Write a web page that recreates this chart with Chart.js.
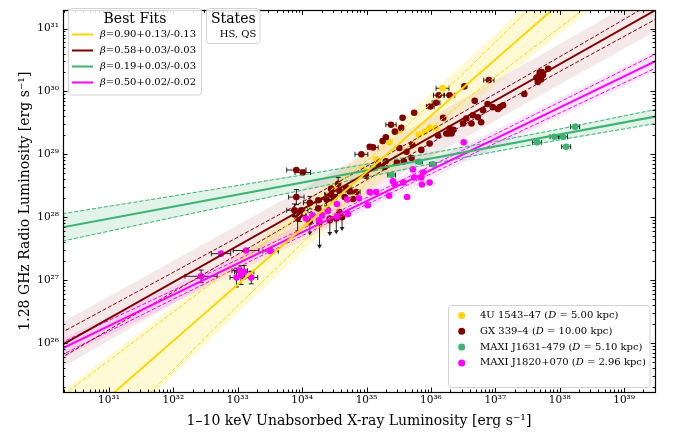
<!DOCTYPE html>
<html>
<head>
<meta charset="utf-8">
<script src="https://cdn.jsdelivr.net/npm/chart.js@4.4.1/dist/chart.umd.min.js"></script>
<style>
html,body{margin:0;padding:0;background:#fff;}
#wrap{width:676px;height:437px;}
</style>
</head>
<body>
<div id="wrap"><canvas id="c" width="676" height="437"></canvas></div>
<script>
// ---------------- data (log10 values) ----------------
const sourceNames = ['4U 1543\u201347', 'GX 339\u20134', 'MAXI J1631\u2013479', 'MAXI J1820+070'];
const sourceDistances = ['5.00', '10.00', '5.10', '2.96'];
const sourceColors = ['#FFD700', '#800000', '#3CB371', '#FF00FF'];
const shadeColors = ['rgba(255,215,0,0.16)', 'rgba(128,0,0,0.09)', 'rgba(60,179,113,0.15)', 'rgba(255,0,255,0.10)'];
const fitLabels = ['0.90+0.13/-0.13', '0.58+0.03/-0.03', '0.19+0.03/-0.03', '0.50+0.02/-0.02'];
const stateLabels = ['HS, QS'];
const xMajorExps = [31, 32, 33, 34, 35, 36, 37, 38, 39];
const yMajorExps = [26, 27, 28, 29, 30, 31];
const xRangeExp = [30.286, 39.48];
const yRangeExp = [25.22, 31.29];

// points: [log Lx, log Lr, x error (dex), y error (dex)]
const u1543Points = [
  [36.18,30.05,0.1,0],[35.36,29.19,0,0],[35.51,29.38,0,0],[35.81,29.31,0,0],[35.91,29.36,0,0],
  [35.98,29.42,0,0],[36.07,29.42,0,0],[35.15,28.92,0,0],[34.96,28.75,0,0],[34.10,27.91,0,0],
  [34.53,28.45,0,0],[34.27,27.88,0,0]
];
const gx339Points = [
  [37.69,30.30,0,0],[37.64,30.22,0,0],[37.71,30.19,0,0],[37.66,30.15,0,0],[37.82,30.36,0,0],
  [37.74,30.26,0,0],[37.68,30.24,0,0],[37.72,30.31,0,0],
  [36.90,30.18,0.08,0],[36.52,30.08,0,0],[37.45,29.96,0,0],[36.68,29.85,0,0],
  [36.88,29.80,0,0],[37.07,29.75,0,0],[36.96,29.75,0,0],[37.12,29.78,0,0],[37.04,29.72,0,0],
  [36.81,29.70,0,0],[36.65,29.62,0,0],[36.73,29.59,0,0],[36.55,29.57,0,0],[36.50,29.49,0,0],
  [36.63,29.49,0,0],[36.78,29.51,0,0],
  [36.19,29.58,0,0],[36.29,29.41,0,0],[36.27,29.33,0,0],[36.32,29.33,0,0],[36.29,29.94,0.08,0],
  [36.12,29.94,0.08,0],[36.08,29.82,0.06,0],[35.99,29.76,0.06,0],
  [35.74,29.66,0,0],[35.56,29.58,0,0],
  [35.38,29.47,0.08,0],[35.54,29.42,0,0],[35.44,29.36,0,0],[35.30,29.27,0,0],[35.25,29.21,0,0],
  [35.10,29.11,0.08,0],[34.92,29.00,0.1,0],[35.05,29.12,0,0],
  [35.51,29.10,0,0],[35.62,29.04,0,0],[35.71,29.15,0,0],[35.85,29.07,0,0],[35.98,29.17,0,0],
  [36.11,29.30,0,0],[36.24,29.33,0,0],[36.35,29.39,0,0],
  [35.47,28.87,0,0],[35.58,28.89,0,0],[35.70,28.94,0,0],[35.28,28.80,0,0],[35.30,28.89,0,0],
  [35.18,28.84,0,0],[34.99,28.66,0,0],
  [33.91,28.75,0.15,0],[34.01,28.71,0.12,0],
  [34.56,28.53,0,0.1],[34.58,28.42,0,0],[34.45,28.45,0,0],[34.70,28.46,0.06,0],[34.74,28.41,0,0],
  [34.84,28.40,0.06,0],
  [34.45,28.36,0.1,0.1],[33.91,28.32,0.12,0.12],[34.12,28.23,0.1,0.1],[34.25,28.27,0,0],
  [34.38,28.28,0.08,0.1],[34.50,28.32,0,0],[34.66,28.32,0,0],[34.79,28.29,0,0],
  [33.88,28.11,0.12,0.1],[33.99,28.11,0.1,0],[34.25,28.14,0,0],[34.40,28.11,0,0],[34.58,28.08,0,0],
  [33.96,28.03,0.1,0.1],[34.43,27.98,0,0]
];
// upper limits: [log Lx, log Lr, arrow length (dex)]
const gx339UpperLimits = [
  [33.93,27.98,0.25],[34.12,27.93,0.22],[34.27,27.92,0.42],[34.43,27.95,0.25],[34.53,27.98,0.25],[34.62,28.00,0.22]
];
const j1631Points = [
  [38.24,29.44,0.07,0],[37.92,29.28,0.07,0],[38.05,29.28,0.07,0],[37.65,29.19,0.07,0],[38.10,29.12,0.07,0],
  [35.82,28.88,0.05,0],[36.03,28.84,0.05,0],[35.39,28.67,0.06,0],[35.11,28.78,0.05,0]
];
const j1820Points = [
  [36.51,29.19,0,0],[35.72,28.76,0,0],[35.88,28.71,0,0],[35.74,28.63,0,0],[35.85,28.63,0,0],
  [35.98,28.55,0,0],[35.86,28.52,0,0],[35.57,28.55,0,0],[35.44,28.52,0,0],[35.41,28.57,0,0],
  [35.15,28.40,0,0],[35.05,28.40,0,0],[35.35,28.34,0,0],[35.63,28.32,0,0],[34.88,28.30,0,0],
  [34.70,28.28,0,0],[35.02,28.19,0,0],[34.71,28.05,0,0],[34.54,28.21,0,0],[34.54,28.01,0,0],
  [34.31,28.03,0,0],[34.16,28.03,0,0],[34.06,27.98,0,0],[34.26,27.95,0,0],[34.40,28.10,0,0],
  [32.74,27.42,0.15,0],[33.13,27.47,0.2,0],[33.51,27.46,0.12,0],[32.43,27.06,0.25,0.1],
  [32.98,27.04,0.1,0.15],[33.10,27.13,0.15,0.1],[33.03,27.15,0.12,0],[33.21,27.04,0.1,0.1],
  [33.05,27.08,0,0.15]
];

// best-fit lines and bands: [log Lx, log Lr]
const u1543Fit   = [[30,24.245],[40,33.19]];
const u1543FitHi = [[30,24.952],[31,25.721],[32,26.492],[33,27.268],[34,28.056],[35.3,29.146],[36.5,30.282],[37.5,31.282],[38.5,32.294],[39.5,33.312]];
const u1543FitLo = [[30,23.538],[31,24.559],[32,25.576],[33,26.590],[34,27.590],[35.3,28.826],[36.5,29.836],[37.5,30.626],[38.5,31.402],[39.5,32.174]];
const u1543BandHi = [[30,25.013],[31,25.794],[32,26.581],[33,27.382],[34,28.203],[35.3,29.326],[36.5,30.433],[37.5,31.398],[38.5,32.385],[39.5,33.386]];
const u1543BandLo = [[30,23.477],[31,24.486],[32,25.487],[33,26.476],[34,27.443],[35.3,28.646],[36.5,29.685],[37.5,30.510],[38.5,31.311],[39.5,32.100]];

const gx339Fit   = [[30,25.813],[40,31.588]];
const gx339FitHi = [[30,26.019],[32,27.124],[34,28.240],[36,29.378],[38,30.550],[40,31.744]];
const gx339FitLo = [[30,25.607],[32,26.812],[34,28.006],[36,29.178],[38,30.316],[40,31.432]];
const gx339BandHi = [[30,26.177],[32,27.307],[34,28.445],[36,29.594],[38,30.755],[40,31.927]];
const gx339BandLo = [[30,25.449],[32,26.629],[34,27.801],[36,28.962],[38,30.111],[40,31.249]];

const j1631Fit   = [[30,27.784],[40,29.699]];
const j1631FitHi = [[30,28.009],[32,28.337],[34,28.670],[36,29.018],[37,29.205],[38,29.401],[40,29.819]];
const j1631FitLo = [[30,27.559],[32,27.997],[34,28.430],[36,28.848],[37,29.045],[38,29.231],[40,29.579]];
const j1631BandHi = [[30,28.017],[32,28.347],[34,28.684],[36,29.037],[37,29.225],[38,29.420],[40,29.833]];
const j1631BandLo = [[30,27.551],[32,27.987],[34,28.416],[36,28.829],[37,29.025],[38,29.212],[40,29.565]];

const j1820Fit   = [[30,25.776],[40,30.736]];
const j1820FitHi = [[30,25.879],[32,26.839],[34.5,28.058],[37,29.319],[40,30.857]];
const j1820FitLo = [[30,25.673],[32,26.697],[34.5,27.958],[37,29.177],[40,30.615]];
const j1820BandHi = [[30,25.932],[32,26.907],[34.5,28.138],[37,29.387],[40,30.906]];
const j1820BandLo = [[30,25.620],[32,26.629],[34.5,27.878],[37,29.109],[40,30.566]];

// ---------------- chart construction ----------------
const FONT = '"DejaVu Serif", "Liberation Serif", serif';
Chart.defaults.font.family = FONT;
Chart.defaults.color = '#000';

const toXY = arr => arr.map(p => ({x: Math.pow(10, p[0]), y: Math.pow(10, p[1])}));

const fits = [
  {line: u1543Fit, hi: u1543FitHi, lo: u1543FitLo, bHi: u1543BandHi, bLo: u1543BandLo},
  {line: gx339Fit, hi: gx339FitHi, lo: gx339FitLo, bHi: gx339BandHi, bLo: gx339BandLo},
  {line: j1631Fit, hi: j1631FitHi, lo: j1631FitLo, bHi: j1631BandHi, bLo: j1631BandLo},
  {line: j1820Fit, hi: j1820FitHi, lo: j1820FitLo, bHi: j1820BandHi, bLo: j1820BandLo}
];

const datasets = [];
const lineBase = {type: 'line', showLine: true, pointRadius: 0, pointHoverRadius: 0, tension: 0, fill: false};
fits.forEach((f, i) => {
  datasets.push(Object.assign({}, lineBase, {label: 'fit', data: toXY(f.line), borderColor: sourceColors[i], borderWidth: 2, order: 0}));
  datasets.push(Object.assign({}, lineBase, {label: 'fit+', data: toXY(f.hi), borderColor: sourceColors[i], borderWidth: 1, borderDash: [4, 2], order: 1}));
  datasets.push(Object.assign({}, lineBase, {label: 'fit-', data: toXY(f.lo), borderColor: sourceColors[i], borderWidth: 1, borderDash: [4, 2], order: 1}));
});
const pointSets = [
  {pts: u1543Points, extra: [], ul: null, order: 5},
  {pts: gx339Points, extra: gx339UpperLimits, ul: gx339UpperLimits, order: 4},
  {pts: j1631Points, extra: [], ul: null, order: 3},
  {pts: j1820Points, extra: [], ul: null, order: 2}
];
pointSets.forEach((s, i) => {
  datasets.push({
    label: sourceNames[i], data: toXY(s.pts.concat(s.extra)), showLine: false,
    backgroundColor: sourceColors[i], borderColor: sourceColors[i], borderWidth: 0,
    pointRadius: 3.3, pointHoverRadius: 3.3, order: s.order,
    errorPoints: s.pts, upperLimits: s.ul
  });
});
fits.forEach((f, i) => {
  datasets.push(Object.assign({}, lineBase, {label: 'band', data: toXY(f.bHi), borderWidth: 0, borderColor: 'rgba(0,0,0,0)', backgroundColor: shadeColors[i], fill: '+1', order: 20}));
  datasets.push(Object.assign({}, lineBase, {label: 'band', data: toXY(f.bLo), borderWidth: 0, borderColor: 'rgba(0,0,0,0)', order: 20}));
});

const SUP = {'0':'\u2070','1':'\u00b9','2':'\u00b2','3':'\u00b3','4':'\u2074','5':'\u2075','6':'\u2076','7':'\u2077','8':'\u2078','9':'\u2079','-':'\u207b'};
function powLabel(v, exps) {
  const l = Math.log10(v), e = Math.round(l);
  if (Math.abs(l - e) > 1e-6 || exps.indexOf(e) < 0) return '';
  return '10' + String(e).split('').map(c => SUP[c]).join('');
}

// error bars and upper limits, drawn just below each source's markers
const errorBars = {
  id: 'errorBars',
  beforeDatasetDraw(chart, args) {
    const ds = chart.data.datasets[args.index];
    if (!ds.errorPoints) return;
    const {ctx, chartArea: a} = chart;
    const xs = chart.scales.x, ys = chart.scales.y;
    ctx.save();
    ctx.beginPath(); ctx.rect(a.left, a.top, a.right - a.left, a.bottom - a.top); ctx.clip();
    ctx.strokeStyle = 'rgba(0,0,0,0.85)'; ctx.fillStyle = 'rgba(0,0,0,0.85)'; ctx.lineWidth = 1;
    ctx.beginPath();
    ds.errorPoints.forEach(p => {
      const px = xs.getPixelForValue(Math.pow(10, p[0])), py = ys.getPixelForValue(Math.pow(10, p[1]));
      if (p[2] > 0) {
        const x1 = xs.getPixelForValue(Math.pow(10, p[0] - p[2])), x2 = xs.getPixelForValue(Math.pow(10, p[0] + p[2]));
        ctx.moveTo(x1, py); ctx.lineTo(x2, py);
        ctx.moveTo(x1, py - 2.5); ctx.lineTo(x1, py + 2.5);
        ctx.moveTo(x2, py - 2.5); ctx.lineTo(x2, py + 2.5);
      }
      if (p[3] > 0) {
        const y1 = ys.getPixelForValue(Math.pow(10, p[1] - p[3])), y2 = ys.getPixelForValue(Math.pow(10, p[1] + p[3]));
        ctx.moveTo(px, y1); ctx.lineTo(px, y2);
        ctx.moveTo(px - 2.5, y1); ctx.lineTo(px + 2.5, y1);
        ctx.moveTo(px - 2.5, y2); ctx.lineTo(px + 2.5, y2);
      }
    });
    ctx.stroke();
    (ds.upperLimits || []).forEach(p => {
      const px = xs.getPixelForValue(Math.pow(10, p[0])), py = ys.getPixelForValue(Math.pow(10, p[1]));
      const py2 = ys.getPixelForValue(Math.pow(10, p[1] - p[2]));
      ctx.beginPath(); ctx.moveTo(px, py); ctx.lineTo(px, py2 - 3); ctx.stroke();
      ctx.beginPath(); ctx.moveTo(px - 2.5, py2 - 4); ctx.lineTo(px + 2.5, py2 - 4); ctx.lineTo(px, py2); ctx.closePath(); ctx.fill();
    });
    ctx.restore();
  }
};

function logTicks(ctx, scale, horiz, a) {
  const lo = Math.floor(Math.log10(scale.min)), hi = Math.ceil(Math.log10(scale.max));
  ctx.beginPath();
  for (let e = lo; e <= hi; e++) {
    for (let k = 1; k <= 9; k++) {
      const v = k * Math.pow(10, e);
      if (v < scale.min || v > scale.max) continue;
      const p = Math.round(scale.getPixelForValue(v)) + 0.5;
      const len = k === 1 ? 4.5 : 2.5;
      if (horiz) {
        ctx.moveTo(p, a.bottom); ctx.lineTo(p, a.bottom - len);
        ctx.moveTo(p, a.top); ctx.lineTo(p, a.top + len);
      } else {
        ctx.moveTo(a.left, p); ctx.lineTo(a.left + len, p);
        ctx.moveTo(a.right, p); ctx.lineTo(a.right - len, p);
      }
    }
  }
  ctx.stroke();
}

function legendBox(ctx, x, y, w, h) {
  const r = 3;
  ctx.beginPath();
  ctx.moveTo(x + r, y);
  ctx.arcTo(x + w, y, x + w, y + h, r);
  ctx.arcTo(x + w, y + h, x, y + h, r);
  ctx.arcTo(x, y + h, x, y, r);
  ctx.arcTo(x, y, x + w, y, r);
  ctx.closePath();
  ctx.fillStyle = 'rgba(255,255,255,0.85)'; ctx.fill();
  ctx.strokeStyle = '#d2d2d2'; ctx.lineWidth = 1; ctx.stroke();
}

function drawSegments(ctx, segs, x, y) {
  segs.forEach(s => {
    ctx.font = s[1];
    ctx.fillText(s[0], x, y);
    x += ctx.measureText(s[0]).width;
  });
}

const frameAndLegends = {
  id: 'frameAndLegends',
  afterDatasetsDraw(chart) {
    const {ctx, chartArea: a} = chart;
    ctx.save();
    ctx.strokeStyle = '#000'; ctx.lineWidth = 1;
    logTicks(ctx, chart.scales.x, true, a);
    logTicks(ctx, chart.scales.y, false, a);
    ctx.lineWidth = 1.2;
    ctx.strokeRect(Math.round(a.left) + 0.5, Math.round(a.top) + 0.5, Math.round(a.right - a.left), Math.round(a.bottom - a.top));
    ctx.restore();
  },
  afterDraw(chart) {
    const ctx = chart.ctx;
    ctx.save();
    // Best Fits legend
    legendBox(ctx, 68.5, 8.5, 133, 86.5);
    ctx.fillStyle = '#000'; ctx.textAlign = 'center'; ctx.textBaseline = 'middle';
    ctx.font = '14px ' + FONT;
    ctx.fillText('Best Fits', 135, 19);
    fitLabels.forEach((lab, i) => {
      const y = 34.5 + 16 * i;
      ctx.strokeStyle = sourceColors[i]; ctx.lineWidth = 2;
      ctx.beginPath(); ctx.moveTo(72, y); ctx.lineTo(93, y); ctx.stroke();
      ctx.fillStyle = '#000'; ctx.textAlign = 'left';
      drawSegments(ctx, [['\u03b2', 'italic 10px ' + FONT], ['=' + lab, '10px ' + FONT]], 100, y);
    });
    // States legend
    legendBox(ctx, 206.5, 8.5, 53.5, 35);
    ctx.fillStyle = '#000'; ctx.textAlign = 'center';
    ctx.font = '14px ' + FONT;
    ctx.fillText('States', 233.3, 19);
    ctx.font = '10px ' + FONT;
    ctx.fillText(stateLabels[0], 238, 34.5);
    // sources legend
    legendBox(ctx, 448.5, 305.5, 201.5, 82);
    sourceNames.forEach((name, i) => {
      const y = 315.5 + 15.8 * i;
      ctx.fillStyle = sourceColors[i];
      ctx.beginPath(); ctx.arc(461.7, y, 3.5, 0, Math.PI * 2); ctx.fill();
      ctx.fillStyle = '#000'; ctx.textAlign = 'left';
      drawSegments(ctx, [[name + ' (', '10px ' + FONT], ['D', 'italic 10px ' + FONT], [' = ' + sourceDistances[i] + ' kpc)', '10px ' + FONT]], 480, y);
    });
    ctx.restore();
  }
};

new Chart(document.getElementById('c'), {
  type: 'scatter',
  data: {datasets},
  options: {
    responsive: false,
    devicePixelRatio: 1,
    animation: false,
    events: [],
    layout: {padding: {left: 0, right: 21, top: 3, bottom: 0}},
    plugins: {legend: {display: false}, tooltip: {enabled: false}},
    scales: {
      x: {
        type: 'logarithmic',
        min: Math.pow(10, xRangeExp[0]), max: Math.pow(10, xRangeExp[1]),
        grid: {display: false, drawTicks: false},
        border: {display: false},
        ticks: {autoSkip: false, maxRotation: 0, minRotation: 0, padding: 2, font: {size: 10.5}, color: '#000',
                callback: v => powLabel(v, xMajorExps)},
        title: {display: true, text: '1\u201310 keV Unabsorbed X-ray Luminosity [erg s\u207b\u00b9]', font: {size: 14}, color: '#000', padding: {top: 0, bottom: 7.5}},
        afterFit: s => { s.height = 45; }
      },
      y: {
        type: 'logarithmic',
        min: Math.pow(10, yRangeExp[0]), max: Math.pow(10, yRangeExp[1]),
        grid: {display: false, drawTicks: false},
        border: {display: false},
        ticks: {autoSkip: false, padding: 4, font: {size: 10.5}, color: '#000',
                callback: v => powLabel(v, yMajorExps)},
        title: {display: true, text: '1.28 GHz Radio Luminosity [erg s\u207b\u00b9]', font: {size: 14}, color: '#000', padding: {top: 17, bottom: 0}},
        afterFit: s => { s.width = 63; }
      }
    }
  },
  plugins: [errorBars, frameAndLegends]
});
</script>
</body>
</html>
